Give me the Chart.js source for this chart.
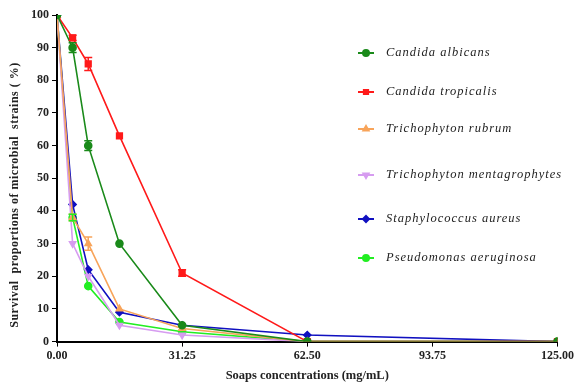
<!DOCTYPE html>
<html>
<head>
<meta charset="utf-8">
<script src="https://cdn.jsdelivr.net/npm/chart.js@4/dist/chart.umd.min.js"></script>
<style>
  html, body { margin: 0; padding: 0; background: #fff; }
  #wrap { width: 576px; height: 383px; }
</style>
</head>
<body>
<div id="wrap"><canvas id="chart"></canvas></div>
<script>
// soap concentrations (mg/mL), two-fold dilutions
const concentrations = [0, 3.9, 7.8, 15.6, 31.25, 62.5, 125];
const xTicks = [0, 31.25, 62.5, 93.75, 125];

const strains = ['Candida albicans', 'Candida tropicalis', 'Trichophyton rubrum',
  'Trichophyton mentagrophytes', 'Staphylococcus aureus', 'Pseudomonas aeruginosa'];

const yTitle = 'Survival  proportions of microbial  strains ( %)';

// survival (%)
const albicans = [100, 90, 60, 30, 5, 0, 0];
const tropicalis = [100, 93, 85, 63, 21, 0, 0];
const rubrum = [100, 38, 30, 10, 4, 0, 0];
const mentagrophytes = [100, 30, 20, 5, 2, 0, 0];
const aureus = [100, 42, 22, 9, 5, 2, 0];
const aeruginosa = [100, 38, 17, 6, 3, 0, 0];

// standard deviations
const albicansErr = [0, 1.5, 1.5, 0, 0, 0, 0];
const tropicalisErr = [0, 0.8, 2, 0, 1, 0, 0];
const rubrumErr = [0, 1, 2, 0, 0, 0, 0];
const mentagrophytesErr = [0, 0, 0, 0, 0, 0, 0];
const aureusErr = [0, 0, 0, 0, 0, 0, 0];
const aeruginosaErr = [0, 1, 0, 0, 0, 0, 0];

const toPoints = arr => arr.map((v, i) => ({ x: concentrations[i], y: v }));

function series(label, values, errs, color, style, rot) {
  return {
    label: label,
    data: toPoints(values),
    errors: errs,
    showLine: true,
    borderColor: color,
    backgroundColor: color,
    borderWidth: 1.6,
    pointStyle: style,
    rotation: rot || 0,
    pointRadius: style === 'rect' ? 4 : 3.5,
    tension: 0
  };
}

// the figure uses loosely spaced type everywhere
const spacing = {
  id: 'spacing',
  beforeInit(chart) { chart.ctx.letterSpacing = '0.8px'; }
};

// y title sits a bit below the middle of the axis in the figure
const sideTitle = {
  id: 'sideTitle',
  afterDraw(chart) {
    const ctx = chart.ctx;
    ctx.save();
    ctx.translate(15, 195);
    ctx.rotate(-Math.PI / 2);
    ctx.font = 'bold 12px "Liberation Serif"';
    ctx.letterSpacing = '0.5px';
    ctx.fillStyle = '#222';
    ctx.textAlign = 'center';
    ctx.textBaseline = 'middle';
    ctx.fillText(yTitle, 0, 0);
    ctx.restore();
  }
};

// small vertical error bars with caps
const errorBars = {
  id: 'errorBars',
  afterDatasetsDraw(chart) {
    const ctx = chart.ctx;
    const ys = chart.scales.y;
    chart.data.datasets.forEach((ds, di) => {
      const meta = chart.getDatasetMeta(di);
      ctx.save();
      ctx.strokeStyle = ds.borderColor;
      ctx.lineWidth = 1.5;
      meta.data.forEach((pt, i) => {
        const e = ds.errors[i];
        if (!e) return;
        const v = ds.data[i].y;
        const top = ys.getPixelForValue(v + e);
        const bot = ys.getPixelForValue(v - e);
        ctx.beginPath();
        ctx.moveTo(pt.x, top); ctx.lineTo(pt.x, bot);
        ctx.moveTo(pt.x - 4, top); ctx.lineTo(pt.x + 4, top);
        ctx.moveTo(pt.x - 4, bot); ctx.lineTo(pt.x + 4, bot);
        ctx.stroke();
      });
      ctx.restore();
    });
  }
};

// legend drawn inside the plot, uneven spacing as in the figure
const legendRows = [53, 92, 129, 175, 219, 258];
const sideLegend = {
  id: 'sideLegend',
  afterDraw(chart) {
    const ctx = chart.ctx;
    ctx.save();
    chart.data.datasets.forEach((ds, i) => {
      const y = legendRows[i];
      ctx.strokeStyle = ds.borderColor;
      ctx.lineWidth = 2;
      ctx.beginPath();
      ctx.moveTo(358, y); ctx.lineTo(374, y);
      ctx.stroke();
      Chart.helpers.drawPoint(ctx, {
        pointStyle: ds.pointStyle, rotation: ds.rotation, radius: 3,
        borderWidth: 1
      }, 366, y);
      ctx.fillStyle = ds.backgroundColor;
      ctx.fill();
      ctx.fillStyle = '#222';
      ctx.font = 'italic 12.5px "Liberation Serif"';
      ctx.letterSpacing = '1px';
      ctx.textBaseline = 'middle';
      ctx.fillText(ds.label, 386, y);
    });
    ctx.restore();
  }
};

new Chart(document.getElementById('chart'), {
  type: 'scatter',
  data: {
    datasets: [
      series(strains[0], albicans, albicansErr, '#1a8a1a', 'circle'),
      series(strains[1], tropicalis, tropicalisErr, '#ff1a1a', 'rect'),
      series(strains[2], rubrum, rubrumErr, '#f8a45a', 'triangle'),
      series(strains[3], mentagrophytes, mentagrophytesErr, '#d69cf0', 'triangle', 180),
      series(strains[4], aureus, aureusErr, '#1010c0', 'rectRot'),
      series(strains[5], aeruginosa, aeruginosaErr, '#22ee22', 'circle')
    ]
  },
  options: {
    responsive: true,
    maintainAspectRatio: false,
    animation: false,
    layout: { padding: { top: 15, right: 1, left: 28, bottom: 0 } },
    plugins: {
      legend: { display: false },
      tooltip: { enabled: false }
    },
    scales: {
      x: {
        type: 'linear',
        min: 0,
        max: 125,
        afterBuildTicks: axis => { axis.ticks = xTicks.map(v => ({ value: v })); },
        ticks: {
          callback: v => Number(v).toFixed(2),
          color: '#222',
          font: { family: 'Liberation Serif', size: 12, weight: 'bold' },
          maxRotation: 0,
          padding: 2
        },
        grid: { drawOnChartArea: false, drawTicks: true, tickLength: 5, color: '#000' },
        border: { color: '#000', width: 2 },
        title: {
          display: true,
          text: 'Soaps concentrations (mg/mL)',
          color: '#222',
          font: { family: 'Liberation Serif', size: 12.5, weight: 'bold' },
          padding: { top: 3, bottom: 0 }
        }
      },
      y: {
        min: 0,
        max: 100,
        ticks: {
          stepSize: 10,
          color: '#222',
          font: { family: 'Liberation Serif', size: 12, weight: 'bold' },
          padding: 3
        },
        grid: { drawOnChartArea: false, drawTicks: true, tickLength: 5, color: '#000' },
        border: { color: '#000', width: 2 },
        title: { display: false }
      }
    }
  },
  plugins: [spacing, errorBars, sideLegend, sideTitle]
});
</script>
</body>
</html>
